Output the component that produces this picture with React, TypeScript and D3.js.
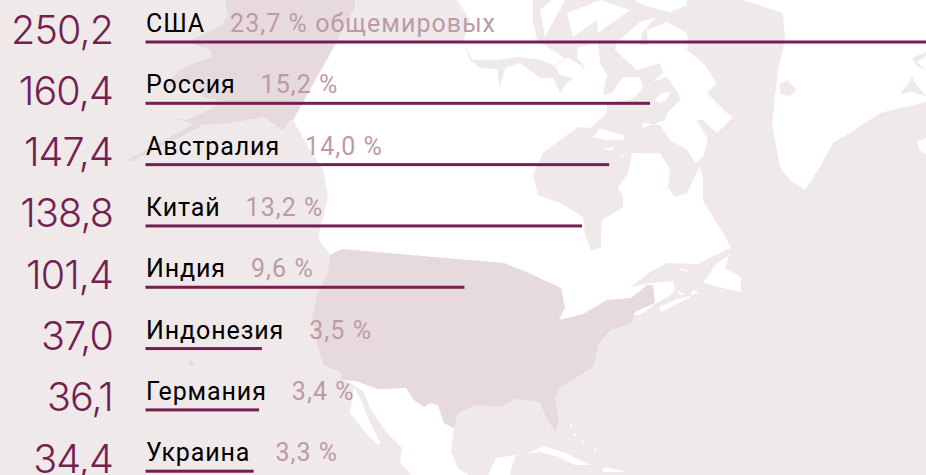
import React from "react";
import * as d3 from "d3";

const countries = ["США", "Россия", "Австралия", "Китай", "Индия", "Индонезия", "Германия", "Украина"];
const values = [250.2, 160.4, 147.4, 138.8, 101.4, 37.0, 36.1, 34.4];
const valueLabels = ["250,2", "160,4", "147,4", "138,8", "101,4", "37,0", "36,1", "34,4"];
const shareLabels = ["23,7 % общемировых", "15,2 %", "14,0 %", "13,2 %", "9,6 %", "3,5 %", "3,4 %", "3,3 %"];

type P = [number, number];
const canada: P[] = [[338,41],[400,42],[463,42],[470,60],[480,68],[497,69],[500,87],[505,68],[520,63],[540,78],[553,78],[560,93],[567,83],[585,67],[577,58],[578,47],[598,43],[600,62],[607,75],[603,95],[612,93],[623,77],[640,77],[643,87],[637,95],[630,100],[607,103],[607,110],[605,115],[590,128],[578,127],[563,138],[543,153],[533,175],[538,195],[560,203],[583,217],[585,235],[591,250],[601,248],[601,235],[602,220],[623,207],[623,197],[618,187],[628,173],[632,153],[660,153],[670,170],[668,187],[675,197],[687,193],[697,172],[700,167],[703,177],[703,200],[713,217],[727,240],[731,248],[711,257],[699,264],[667,263],[650,272],[631,287],[653,283],[673,281],[675,290],[671,295],[657,303],[640,315],[559,320],[342,250],[330,255],[318,238],[325,210],[328,195],[323,170],[310,150],[293,120]];
const usa: P[] = [[342,249],[504,263],[524,271],[555,285],[561,288],[565,307],[559,320],[583,314],[607,300],[631,298],[647,285],[653,285],[655,303],[635,312],[631,323],[611,330],[599,343],[593,367],[575,378],[559,388],[555,398],[559,422],[555,432],[545,415],[540,402],[516,399],[500,407],[476,405],[458,413],[454,428],[444,423],[438,405],[430,403],[424,407],[414,400],[406,388],[378,389],[356,381],[342,380],[340,372],[324,365],[318,348],[312,318],[316,298],[328,272],[330,255]];
const mexico: P[] = [[342,380],[356,381],[378,389],[406,388],[414,400],[424,407],[430,403],[438,405],[444,423],[454,428],[451,452],[458,468],[466,473],[470,476],[488,476],[496,458],[516,455],[512,465],[510,476],[412,476],[400,462],[402,448],[386,432],[370,408],[364,392],[354,385]];
const baja: P[] = [[354,387],[350,413],[366,433],[378,445],[380,443],[370,422],[360,398]];
const alaska: P[] = [[225,0],[355,0],[355,7],[293,120],[290,120],[283,130],[263,117],[230,123],[197,125],[170,117],[187,120],[215,107],[217,100],[203,97],[193,83],[180,83],[163,90],[180,70],[195,63],[212,57],[210,50],[187,42],[222,25],[228,15]];
const peninsula: P[] = [[197,122],[165,140],[127,160],[132,161],[170,142],[200,127]];
const hawaii: P[] = [[190,359],[194,364],[192,367],[188,364]];
const greenland: P[] = [[743,0],[783,13],[785,40],[778,70],[775,97],[772,123],[780,167],[790,180],[805,190],[820,167],[833,143],[850,133],[880,113],[926,102],[926,0]];
const greenlandBay: P[] = [[779,85],[787,80],[797,90],[790,96],[781,94]];
const fjordNorth: P[] = [[912,58],[926,52],[926,56],[917,62],[926,70],[918,67]];
const fjordSouth: P[] = [[900,94],[908,84],[912,76],[916,84],[926,96],[912,92]];
const iceland: P[] = [[917,141],[926,138],[926,154],[919,150]];
const victoria: P[] = [[457,0],[533,0],[533,22],[537,40],[552,50],[565,58],[555,66],[540,60],[520,57],[495,60],[472,60],[463,42],[470,20]];
const banks: P[] = [[540,10],[552,0],[565,0],[545,37]];
const melville: P[] = [[567,13],[583,7],[600,0],[630,10],[598,33],[597,20],[573,37]];
const kingWilliam: P[] = [[555,67],[568,57],[583,67],[575,78],[560,75]];
const ellesmere: P[] = [[635,0],[643,5],[670,12],[687,5],[687,0]];
const baffin: P[] = [[647,30],[667,22],[687,33],[688,42],[687,50],[703,63],[717,83],[707,93],[727,113],[733,117],[717,133],[703,120],[697,120],[708,140],[703,157],[695,163],[687,150],[670,140],[660,125],[643,123],[642,128],[665,120],[667,113],[680,100],[678,93],[667,77],[653,82],[663,73],[660,63],[637,70],[615,50],[617,42],[640,22],[655,18],[642,33],[640,45],[648,45]];
const foxeIsland: P[] = [[655,100],[662,93],[671,92],[666,100],[660,103]];
const southampton: P[] = [[593,137],[600,128],[610,132],[625,135],[623,140],[607,140]];
const coats: P[] = [[603,149],[615,147],[612,150]];
const mansel: P[] = [[620,157],[626,152],[622,158]];
const newfoundland: P[] = [[703,283],[715,265],[729,255],[725,268],[741,277],[741,292],[723,288]];
const novaScotia: P[] = [[661,312],[659,307],[675,300],[699,293],[693,290],[689,298]];
const anticosti: P[] = [[677,267],[691,272],[683,271]];
const pei: P[] = [[677,290],[685,295],[680,295]];
const cuba: P[] = [[528,453],[544,446],[563,452],[591,465],[575,465],[559,457],[540,452]];
const hispaniola: P[] = [[603,467],[627,472],[603,472]];
const bahamas: P[] = [[571,425],[575,435],[583,442],[595,450]];

const WATER = "#efe9ea";
const DARK = "#e6dadd";
const LAND = "#ffffff";
const BAR = "#741f52";
const SHARE = "#bd9aa8";

const whiteLand = [canada, mexico, baja, greenland, iceland, victoria, banks, melville, kingWilliam, ellesmere, baffin, southampton, coats, mansel, newfoundland, novaScotia, anticosti, pei, cuba, hispaniola];
const waterOverLand = [greenlandBay, fjordNorth, fjordSouth];
const darkLand = [usa, alaska, peninsula, hawaii];
const path = d3.line<P>().curve(d3.curveLinearClosed);

export default function App() {
  const x = d3.scaleLinear().domain([0, 160.4]).range([145.5, 650]);
  const y = d3.scalePoint<string>().domain(countries).range([42, 471.2]);
  return (
    <svg width={926} height={475} style={{ position: "absolute", left: 0, top: 0, background: WATER }} fontFamily="Roboto, sans-serif">
      {whiteLand.map((p, i) => <path key={i} d={path(p)!} fill={LAND} />)}
      {waterOverLand.map((p, i) => <path key={i} d={path(p)!} fill={WATER} />)}
      <path d={path(foxeIsland)!} fill={LAND} />
      {bahamas.map((p, i) => <circle key={i} cx={p[0]} cy={p[1]} r={1.2} fill={LAND} />)}
      {darkLand.map((p, i) => <path key={i} d={path(p)!} fill={DARK} />)}
      {countries.map((c, i) => {
        const yy = y(c)!;
        return (
          <g key={c}>
            <rect x={x(0)} y={yy - 1.5} width={x(values[i]) - x(0)} height={3} fill={BAR} />
            <text x={113} y={yy + 1.5} textAnchor="end" fontFamily="Inter, sans-serif" fontSize={39.5} fontWeight={300} letterSpacing={-0.9} fill={BAR}>{valueLabels[i]}</text>
            <text x={146} y={yy - 10} fontSize={25}>
              <tspan fill="#000" letterSpacing={0.9}>{c}</tspan>
              <tspan dx={25} fill={SHARE} letterSpacing={1.05}>{shareLabels[i]}</tspan>
            </text>
          </g>
        );
      })}
    </svg>
  );
}
